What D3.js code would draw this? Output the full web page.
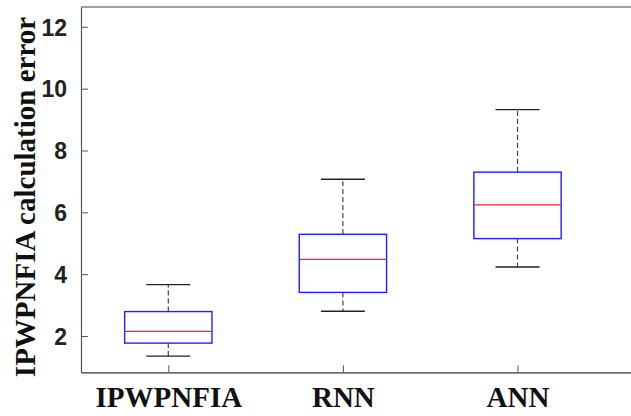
<!DOCTYPE html>
<html>
<head>
<meta charset="utf-8">
<script src="https://cdn.jsdelivr.net/npm/d3@7"></script>
<style>
body { margin: 0; background: #fff; }
</style>
</head>
<body>
<script>
// box plot data
const categories = ["IPWPNFIA", "RNN", "ANN"];
const whiskerLow = [1.35, 2.80, 4.23];
const q1 = [1.77, 3.41, 5.15];
const median = [2.15, 4.48, 6.24];
const q3 = [2.79, 5.29, 7.30];
const whiskerHigh = [3.66, 7.07, 9.32];
const yTicks = [2, 4, 6, 8, 10, 12];

var svg = d3.select("body")
    .append("svg")
    .attr("width", 631)
    .attr("height", 416);

var plotLeft = 81, plotTop = 7, plotBottom = 372.3, plotRight = 631;

var y = d3.scaleLinear()
    .domain([0.826, 12.64])
    .range([plotBottom, plotTop]);

var x = d3.scaleLinear()
    .domain([0.5, 3.65])
    .range([plotLeft, plotRight]);

var boxes = categories.map(function(c, i){
    return {name: c, pos: i + 1, lo: whiskerLow[i], q1: q1[i], med: median[i], q3: q3[i], hi: whiskerHigh[i]};
});

// axes
var yAxis = d3.axisLeft(y).tickValues(yTicks).tickSizeInner(-7).tickSizeOuter(0).tickPadding(14);
var gy = svg.append("g").attr("transform", "translate(" + plotLeft + ",0)").call(yAxis);
gy.select(".domain").attr("stroke", "#555").attr("stroke-width", 1.2);
gy.selectAll(".tick line").attr("stroke", "#555");
gy.selectAll(".tick text")
    .attr("font-family", "Liberation Sans, Arial, sans-serif")
    .attr("font-weight", "bold")
    .attr("font-size", 23)
    .attr("fill", "#222")
    .attr("dy", "0.36em");

var xAxis = d3.axisBottom(x).tickValues([1, 2, 3]).tickFormat(function(d){ return categories[d - 1]; })
    .tickSizeInner(-7).tickSizeOuter(0).tickPadding(14);
var gx = svg.append("g").attr("transform", "translate(0," + plotBottom + ")").call(xAxis);
gx.select(".domain").attr("stroke", "#333").attr("stroke-width", 1.2);
gx.selectAll(".tick line").attr("stroke", "#555");
gx.selectAll(".tick text")
    .attr("font-family", "Liberation Serif, Times New Roman, serif")
    .attr("font-weight", "bold")
    .attr("font-size", 29)
    .attr("fill", "#111")
    .attr("dy", "0.71em");

// top border
svg.append("line")
    .attr("x1", plotLeft).attr("x2", plotRight)
    .attr("y1", plotTop).attr("y2", plotTop)
    .attr("stroke", "#444").attr("stroke-width", 1.2);

// whiskers
svg.selectAll(".whiskUp").data(boxes).enter().append("line")
    .attr("x1", function(d){ return x(d.pos); })
    .attr("x2", function(d){ return x(d.pos); })
    .attr("y1", function(d){ return y(d.q3); })
    .attr("y2", function(d){ return y(d.hi); })
    .attr("stroke", "#444").attr("stroke-width", 1.2)
    .attr("stroke-dasharray", "5,3");
svg.selectAll(".whiskDown").data(boxes).enter().append("line")
    .attr("x1", function(d){ return x(d.pos); })
    .attr("x2", function(d){ return x(d.pos); })
    .attr("y1", function(d){ return y(d.q1); })
    .attr("y2", function(d){ return y(d.lo); })
    .attr("stroke", "#444").attr("stroke-width", 1.2)
    .attr("stroke-dasharray", "5,3");

// caps
["hi", "lo"].forEach(function(k){
    svg.selectAll(".cap-" + k).data(boxes).enter().append("line")
        .attr("x1", function(d){ return x(d.pos - 0.126); })
        .attr("x2", function(d){ return x(d.pos + 0.126); })
        .attr("y1", function(d){ return y(d[k]); })
        .attr("y2", function(d){ return y(d[k]); })
        .attr("stroke", "#222").attr("stroke-width", 1.4);
});

// boxes
svg.selectAll(".box").data(boxes).enter().append("rect")
    .attr("x", function(d){ return x(d.pos - 0.25); })
    .attr("width", function(d){ return x(d.pos + 0.25) - x(d.pos - 0.25); })
    .attr("y", function(d){ return y(d.q3); })
    .attr("height", function(d){ return y(d.q1) - y(d.q3); })
    .attr("fill", "none")
    .attr("stroke", "#2020ff").attr("stroke-width", 1.4);

// medians
svg.selectAll(".median").data(boxes).enter().append("line")
    .attr("x1", function(d){ return x(d.pos - 0.25); })
    .attr("x2", function(d){ return x(d.pos + 0.25); })
    .attr("y1", function(d){ return y(d.med); })
    .attr("y2", function(d){ return y(d.med); })
    .attr("stroke", "#e8292a").attr("stroke-width", 1.3);

// y label
svg.append("text")
    .attr("transform", "translate(35,197) rotate(-90)")
    .attr("text-anchor", "middle")
    .attr("font-family", "Liberation Serif, Times New Roman, serif")
    .attr("font-weight", "bold")
    .attr("font-size", 29)
    .attr("fill", "#111")
    .text("IPWPNFIA calculation error");
</script>
</body>
</html>
